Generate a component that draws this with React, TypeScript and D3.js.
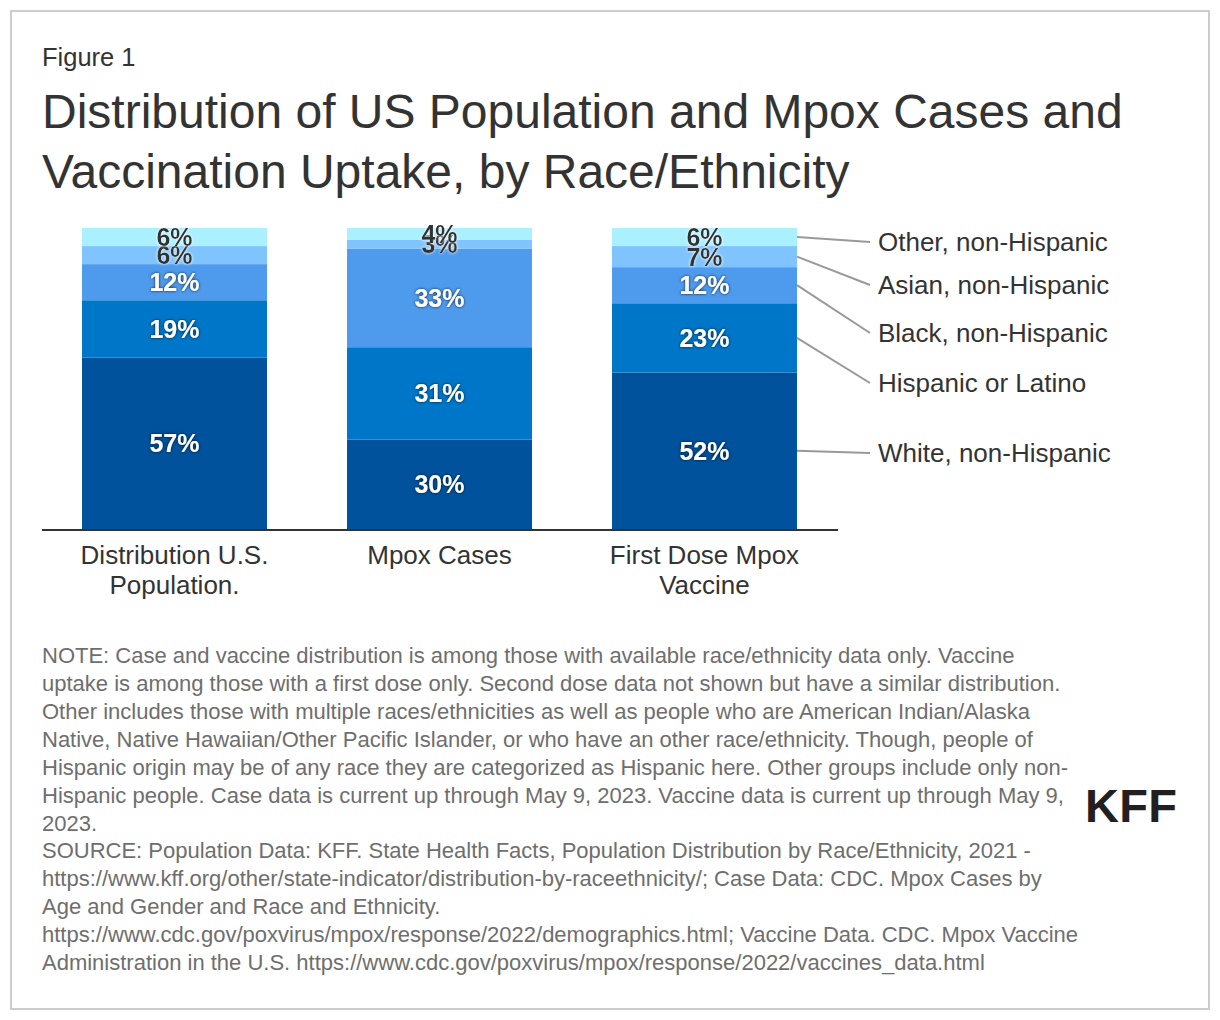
import React from "react";
import * as d3 from "d3";

const categories = ["Distribution U.S.\nPopulation.", "Mpox Cases", "First Dose Mpox\nVaccine"];
const groups = ["White, non-Hispanic", "Hispanic or Latino", "Black, non-Hispanic", "Asian, non-Hispanic", "Other, non-Hispanic"];
const white = [57, 30, 52];
const hispanic = [19, 31, 23];
const black = [12, 33, 12];
const asian = [6, 3, 7];
const other = [6, 4, 6];
const colors = ["#00529c", "#0076c8", "#4e9bee", "#80c4ff", "#aaf0ff"];

const noteLines = [
  "NOTE: Case and vaccine distribution is among those with available race/ethnicity data only. Vaccine",
  "uptake is among those with a first dose only. Second dose data not shown but have a similar distribution.",
  "Other includes those with multiple races/ethnicities as well as people who are American Indian/Alaska",
  "Native, Native Hawaiian/Other Pacific Islander, or who have an other race/ethnicity. Though, people of",
  "Hispanic origin may be of any race they are categorized as Hispanic here. Other groups include only non-",
  "Hispanic people. Case data is current up through May 9, 2023. Vaccine data is current up through May 9,",
  "2023.",
];
const sourceLines = [
  "SOURCE: Population Data: KFF. State Health Facts, Population Distribution by Race/Ethnicity, 2021 -",
  "https://www.kff.org/other/state-indicator/distribution-by-raceethnicity/; Case Data: CDC. Mpox Cases by",
  "Age and Gender and Race and Ethnicity.",
  "https://www.cdc.gov/poxvirus/mpox/response/2022/demographics.html; Vaccine Data. CDC. Mpox Vaccine",
  "Administration in the U.S. https://www.cdc.gov/poxvirus/mpox/response/2022/vaccines_data.html",
];

const series = [white, hispanic, black, asian, other];
const FONT = "Arial, 'Liberation Sans', Helvetica, sans-serif";

export default function App() {
  const plotTop = 228;
  const plotBottom = 529;
  const x = d3.scaleBand().domain(categories).range([42, 837]).paddingInner(0.302).paddingOuter(0.151);
  const bw = x.bandwidth();

  const rows = categories.map((c, i) => {
    const vals = series.map((s) => s[i]);
    const total = d3.sum(vals);
    const y = d3.scaleLinear().domain([0, total]).range([plotBottom, plotTop]);
    let acc = 0;
    const segs = vals.map((v, k) => {
      const y0 = acc;
      acc += v;
      return { k, v, top: y(acc), bottom: y(y0) };
    });
    return { c, segs };
  });

  const legendY = [453, 383, 333, 285, 242];
  const last = rows[rows.length - 1];
  const lastRight = (x(last.c) as number) + bw;

  return (
    <svg width={1220} height={1020} style={{ position: "absolute", left: 0, top: 0, background: "#fff" }} fontFamily={FONT}>
      <defs>
        <filter id="darkShadow" x="-30%" y="-30%" width="160%" height="160%">
          <feDropShadow dx="0" dy="0" stdDeviation="1.8" floodColor="#000" floodOpacity="0.8" />
        </filter>
        <filter id="whiteGlow" x="-30%" y="-30%" width="160%" height="160%">
          <feDropShadow dx="0" dy="0" stdDeviation="1.5" floodColor="#fff" floodOpacity="1" />
        </filter>
      </defs>
      <rect x={0} y={0} width={1220} height={1020} fill="#fff" />
      <rect x={11} y={11} width={1198} height={998} fill="none" stroke="#cccccc" strokeWidth={2} />

      <text x={42} y={66} fontSize={25.5} fill="#333">Figure 1</text>
      <text x={42} y={128} fontSize={48} fill="#333">Distribution of US Population and Mpox Cases and</text>
      <text x={42} y={188} fontSize={48} fill="#333">Vaccination Uptake, by Race/Ethnicity</text>

      {rows.map((r) => (
        <g key={r.c}>
          {r.segs.map((s) => (
            <rect key={s.k} x={x(r.c)} y={s.top} width={bw} height={s.bottom - s.top} fill={colors[s.k]} />
          ))}
        </g>
      ))}
      {rows.map((r) => (
        <g key={r.c + "l"}>
          {r.segs.map((s) => {
            const small = s.v < 10;
            return (
              <text
                key={s.k}
                x={(x(r.c) as number) + bw / 2}
                y={(s.top + s.bottom) / 2}
                dy="0.36em"
                textAnchor="middle"
                fontSize={25}
                fontWeight="bold"
                fill={small ? "#333" : "#fff"}
                filter={small ? "url(#whiteGlow)" : "url(#darkShadow)"}
              >
                {s.v}%
              </text>
            );
          })}
        </g>
      ))}

      <line x1={42} x2={838} y1={530} y2={530} stroke="#333" strokeWidth={2} />

      {categories.map((c) => (
        <text key={c} x={(x(c) as number) + bw / 2} y={564} textAnchor="middle" fontSize={26} fill="#333">
          {c.split("\n").map((ln, j) => (
            <tspan key={j} x={(x(c) as number) + bw / 2} dy={j === 0 ? 0 : 30}>{ln}</tspan>
          ))}
        </text>
      ))}

      {last.segs.map((s) => (
        <g key={"leg" + s.k}>
          <line x1={lastRight} y1={(s.top + s.bottom) / 2} x2={870} y2={legendY[s.k]} stroke="#999" strokeWidth={2} />
          <text x={878} y={legendY[s.k]} dy="0.36em" fontSize={26} fill="#333">{groups[s.k]}</text>
        </g>
      ))}

      {noteLines.map((ln, i) => (
        <text key={"n" + i} x={42} y={663 + i * 28} fontSize={22} fill="#6e6e6e">{ln}</text>
      ))}
      {sourceLines.map((ln, i) => (
        <text key={"s" + i} x={42} y={858 + i * 28} fontSize={22} fill="#6e6e6e">{ln}</text>
      ))}

      <text x={1085} y={822} fontSize={47} fontWeight="bold" fill="#231f20" letterSpacing={0.3}>KFF</text>
    </svg>
  );
}
